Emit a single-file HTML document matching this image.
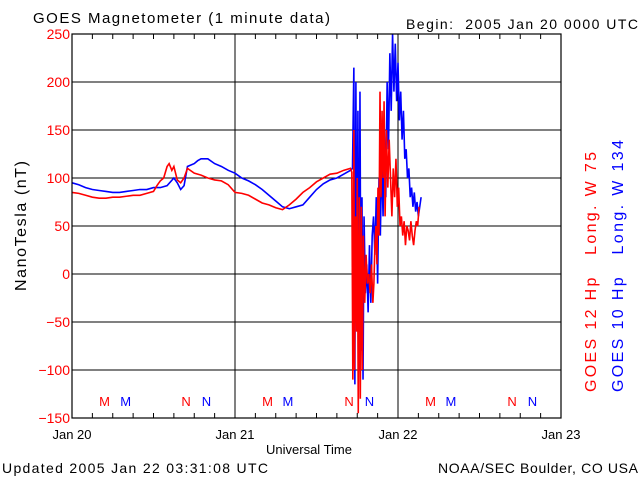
<!DOCTYPE html>
<html><head><meta charset="utf-8">
<style>
html,body{margin:0;padding:0;background:#fff;}
svg{display:block;font-family:"Liberation Sans",sans-serif;}
</style></head>
<body>
<svg id="chart" width="640" height="480">
<text x="33" y="23" font-size="15" textLength="297" lengthAdjust="spacing">GOES Magnetometer (1 minute data)</text>
<text x="406" y="29" font-size="14" textLength="232" lengthAdjust="spacing" xml:space="preserve">Begin:  2005 Jan 20 0000 UTC</text>
<g id="grid"></g>
<g id="series"></g>
<g id="axes"></g>
<text transform="translate(26,226) rotate(-90)" text-anchor="middle" font-size="16" textLength="130" lengthAdjust="spacing">NanoTesla (nT)</text>
<text x="309" y="454" text-anchor="middle" font-size="13">Universal Time</text>
<text x="2" y="473" font-size="14" textLength="266" lengthAdjust="spacing">Updated 2005 Jan 22 03:31:08 UTC</text>
<text x="438" y="473" font-size="14" textLength="200" lengthAdjust="spacing">NOAA/SEC Boulder, CO USA</text>
<text transform="translate(596,392) rotate(-90)" font-size="16" fill="#ff0000" textLength="240" lengthAdjust="spacing" xml:space="preserve">GOES 12 Hp   Long. W 75</text>
<text transform="translate(623,392) rotate(-90)" font-size="16" fill="#0000ff" textLength="252" lengthAdjust="spacing" xml:space="preserve">GOES 10 Hp   Long. W 134</text>
</svg>
<script>
const yTicks=[250,200,150,100,50,0,-50,-100,-150];
const dayLabels=["Jan 20","Jan 21","Jan 22","Jan 23"];
const markerHours=[{t:"M",h:4.8,c:"#ff0000"},{t:"M",h:7.9,c:"#0000ff"},{t:"N",h:16.8,c:"#ff0000"},{t:"N",h:19.8,c:"#0000ff"},{t:"M",h:28.8,c:"#ff0000"},{t:"M",h:31.8,c:"#0000ff"},{t:"N",h:40.8,c:"#ff0000"},{t:"N",h:43.8,c:"#0000ff"},{t:"M",h:52.8,c:"#ff0000"},{t:"M",h:55.8,c:"#0000ff"},{t:"N",h:64.8,c:"#ff0000"},{t:"N",h:67.8,c:"#0000ff"}];
const redHours=[0,1,2,3,4,5,6,7,8,9,10,11,12,12.5,13,13.5,14,14.3,14.7,15,15.5,16,16.5,17,18,19,20,21,22,23,24,25,26,27,28,29,30,31,32,33,34,35,36,37,38,39,40,41,41.2,41.35,41.5,41.6,41.75,41.9,42.0,42.15,42.3,42.45,42.6,42.75,42.9,43.1,43.3,43.5,43.7,43.9,44.1,44.3,44.45,44.6,44.75,44.9,45.05,45.2,45.35,45.5,45.65,45.8,45.95,46.1,46.3,46.5,46.7,46.9,47.1,47.3,47.5,47.7,47.9,48.1,48.3,48.5,48.7,48.9,49.1,49.3,49.5,49.7,49.9,50.1,50.3,50.5,50.7,50.9,51.1];
const redVals=[85,84,82,80,79,79,80,80,81,82,82,84,86,92,97,100,112,115,108,112,98,95,100,110,105,103,100,98,97,93,85,84,82,78,74,72,69,67,72,78,85,90,96,100,104,105,108,110,106,-110,150,-100,60,-60,100,-145,80,-130,70,-100,40,-30,20,-10,0,-20,10,-30,-10,30,50,10,90,40,190,80,170,100,180,60,150,90,140,100,60,110,80,120,70,90,50,60,40,55,30,50,45,35,55,40,30,45,55,50,70,95];
const blueHours=[0,1,2,3,4,5,6,7,8,9,10,11,12,13,14,15,15.5,16,16.5,17,18,18.5,19,20,21,22,23,24,25,26,27,28,29,30,31,32,33,34,35,36,37,38,39,40,41,41.3,41.5,41.65,41.8,41.95,42.1,42.25,42.4,42.55,42.7,42.85,43.0,43.2,43.4,43.6,43.8,44.0,44.2,44.4,44.6,44.8,45.0,45.2,45.4,45.6,45.8,46.0,46.2,46.4,46.6,46.8,47.0,47.2,47.4,47.6,47.8,48.0,48.2,48.4,48.6,48.8,49.0,49.2,49.4,49.6,49.8,50.0,50.2,50.4,50.6,50.8,51.0,51.2,51.4];
const blueVals=[95,93,90,88,87,86,85,85,86,87,88,88,90,90,92,100,95,88,92,112,115,118,120,120,115,112,108,105,100,97,93,88,82,76,70,68,70,72,80,88,94,98,100,104,108,110,215,-115,200,-60,170,-100,190,-80,80,-110,60,-20,10,-40,30,-30,40,60,20,80,-10,100,40,120,60,150,80,200,130,230,170,250,190,240,180,220,160,190,140,170,120,130,100,110,80,90,70,85,65,75,60,70,80];
const X0=72,X1=561,Y0=34,Y1=418,HMAX=72;
const xs=h=>X0+(X1-X0)*h/HMAX;
const ys=v=>Y0+(Y1-Y0)*(250-v)/400;
const NS="http://www.w3.org/2000/svg";
function mk(tag,attrs,parent){const e=document.createElementNS(NS,tag);for(const k in attrs)e.setAttribute(k,attrs[k]);parent.appendChild(e);return e;}
const grid=document.getElementById('grid'),axes=document.getElementById('axes'),ser=document.getElementById('series');
yTicks.forEach((v,i)=>{
  if(i>0&&i<yTicks.length-1){const l=mk('line',{x1:X0,x2:X1,y1:ys(v),y2:ys(v),stroke:'#000','stroke-width':1},grid);
  
  }
  const t=mk('text',{x:X0-2,y:ys(v)+5,'text-anchor':'end','font-size':14,fill:'#ff0000'},axes);
  t.textContent=(v<0?'\u2212':'')+Math.abs(v);
  
  
});
dayLabels.forEach((d,i)=>{
  const x=xs(i*24);
  if(i>0&&i<3){const l=mk('line',{x1:x,x2:x,y1:Y0,y2:Y1,stroke:'#000','stroke-width':1},grid);
  
  }
  const t=mk('text',{x:x,y:439,'text-anchor':'middle','font-size':13},axes);
  t.textContent=d;
  
  
});
for(let h=3;h<HMAX;h+=3){const x=xs(h);
  const a=mk('line',{x1:x,x2:x,y1:Y0,y2:Y0+5,stroke:'#000'},axes);
  
  
  const b=mk('line',{x1:x,x2:x,y1:Y1-5,y2:Y1,stroke:'#000'},axes);
  
  
}
const fr=mk('rect',{x:X0,y:Y0,width:X1-X0,height:Y1-Y0,fill:'none',stroke:'#000','stroke-width':1.2},axes);


markerHours.forEach(m=>{const t=mk('text',{x:xs(m.h),y:406,'text-anchor':'middle','font-size':13,fill:m.c},axes);
  t.textContent=m.t;
  
  });
function line(hs,vs,c,name){const p=mk('polyline',{points:hs.map((h,i)=>xs(h)+','+ys(vs[i])).join(' '),fill:'none',stroke:c,'stroke-width':1.6},ser);
  
  }
line(blueHours,blueVals,'#0000ff','goes10-line');
line(redHours,redVals,'#ff0000','goes12-line');
</script>
</body></html>
